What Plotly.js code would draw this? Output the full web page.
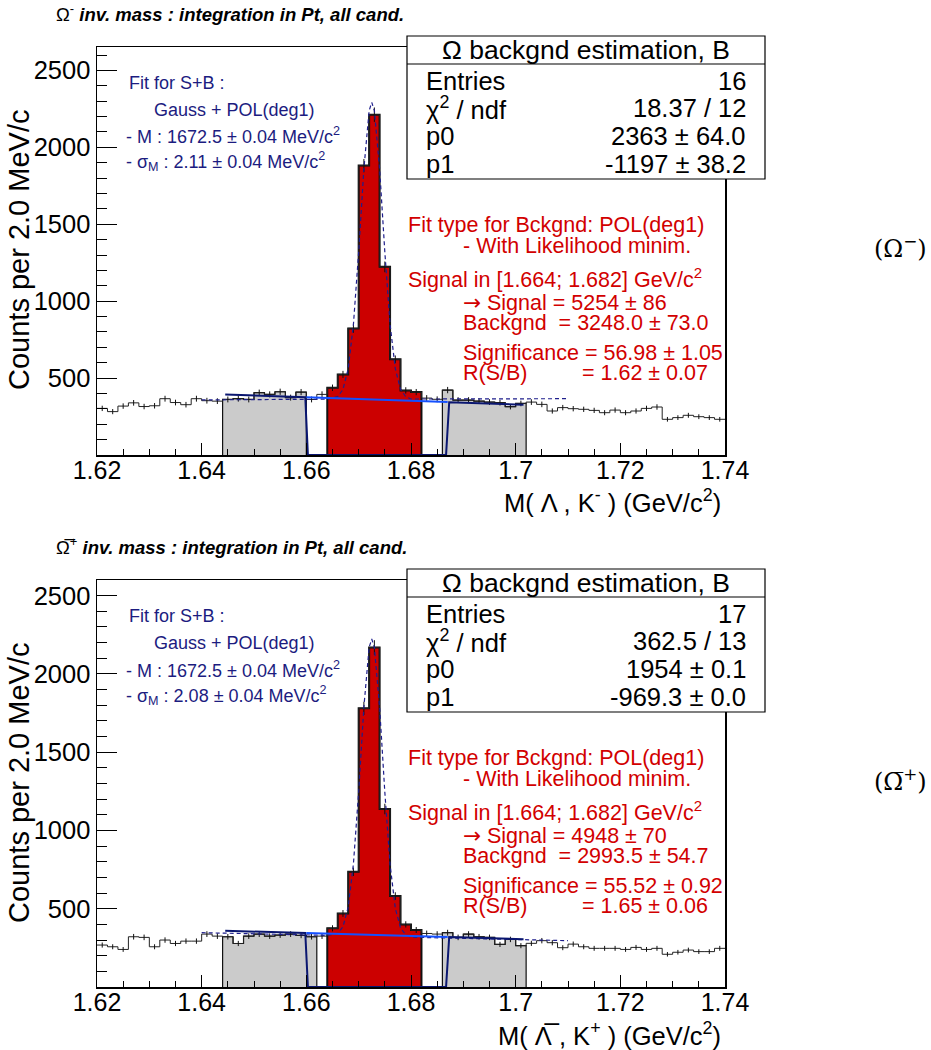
<!DOCTYPE html>
<html><head><meta charset="utf-8">
<script src="https://cdn.plot.ly/plotly-3.0.1.min.js"></script>
<style>html,body{margin:0;padding:0;background:#fff}#chart{width:931px;height:1050px}</style>
</head><body><div id="chart"></div>
<script>
// ---------------- data ----------------
const massLow = 1.62;          // GeV/c^2, lower edge of first bin
const binWidth = 0.002;        // 2.0 MeV/c^2 bins
const countsOmegaMinus = [303, 282, 318, 339, 315, 320, 366, 341, 327, 366, 353, 350, 361, 366, 361, 405, 394, 411, 373, 409, 361, 394,
  437, 524, 823, 1881, 2212, 1223, 622, 420, 409,
  370, 362, 422, 357, 357, 350, 344, 340, 314, 335, 344, 329, 286, 308, 301, 297, 290, 275, 292, 275, 286, 303, 312, 232, 243, 258, 249, 243, 232];
const countsOmegaPlus = [268, 257, 240, 321, 317, 257, 300, 278, 293, 293, 338, 325, 321, 278, 325, 338, 325, 332, 338, 330, 321, 325,
  375, 470, 736, 1780, 2169, 1137, 581, 400, 364,
  342, 338, 347, 317, 338, 321, 317, 272, 304, 264, 279, 296, 283, 251, 274, 257, 247, 247, 247, 240, 253, 240, 247, 209, 222, 236, 226, 226, 247];
const signalRange = [1.664, 1.682];
const sidebandsOmegaMinus = [[1.644, 1.660], [1.686, 1.702]];
const sidebandsOmegaPlus = [[1.644, 1.662], [1.686, 1.702]];

// S+B fit curve (Gauss + pol1)
const fitMass = [1.640, 1.660, 1.664, 1.666, 1.667, 1.668, 1.669, 1.670, 1.671, 1.672, 1.6725, 1.673, 1.674, 1.675, 1.676, 1.677, 1.678, 1.679, 1.680, 1.684, 1.710];
const fitOmegaMinus = [358, 361, 363, 379, 426, 561, 849, 1319, 1861, 2238, 2292, 2238, 1861, 1319, 849, 561, 426, 379, 364, 364, 366];
const fitOmegaPlus  = [347, 332, 330, 342, 385, 510, 787, 1247, 1790, 2170, 2223, 2169, 1787, 1244, 782, 503, 377, 333, 318, 315, 296];

// background-only fit (pol1 on side bands, signal region rejected)
const bkgMass = [1.6445, 1.6598, 1.6603, 1.6867, 1.6873, 1.7015];
const bkgOmegaMinus = [394, 376, 0, 0, 343, 326];
const bkgOmegaPlus  = [359, 345, 0, 0, 319, 305];
// background under the signal region
const bkgUnderMass = [1.6600, 1.6870];
const bkgUnderOmegaMinus = [376, 344];
const bkgUnderOmegaPlus  = [345, 319];

const xTickVals = [1.62, 1.64, 1.66, 1.68, 1.70, 1.72, 1.74];
const xTickText = ['1.62', '1.64', '1.66', '1.68', '1.7', '1.72', '1.74'];
const yTickVals = [500, 1000, 1500, 2000, 2500];

const statLabels = ['Entries', 'χ<sup>2</sup> / ndf', 'p0', 'p1'];
const statOmegaMinus = ['16', '18.37 / 12', '2363 ± 64.0', '-1197 ± 38.2'];
const statOmegaPlus  = ['17', '362.5 / 13', '1954 ± 0.1', '-969.3 ± 0.0'];

const sbFitOmegaMinus = ['Fit for S+B :', 'Gauss + POL(deg1)', '- M : 1672.5 ± 0.04 MeV/c<sup>2</sup>', '- σ<sub>M</sub> : 2.11 ± 0.04 MeV/c<sup>2</sup>'];
const sbFitOmegaPlus  = ['Fit for S+B :', 'Gauss + POL(deg1)', '- M : 1672.5 ± 0.04 MeV/c<sup>2</sup>', '- σ<sub>M</sub> : 2.08 ± 0.04 MeV/c<sup>2</sup>'];

const ARROW = '<span style="font-family:DejaVu Sans">→</span>';
const resOmegaMinus = ['Fit type for Bckgnd: POL(deg1)', '- With Likelihood minim.', 'Signal in [1.664; 1.682] GeV/c<sup>2</sup>',
  ARROW + ' Signal = 5254 ± 86', 'Backgnd\u00a0 = 3248.0 ± 73.0', 'Significance = 56.98 ± 1.05', 'R(S/B)', '= 1.62 ± 0.07'];
const resOmegaPlus = ['Fit type for Bckgnd: POL(deg1)', '- With Likelihood minim.', 'Signal in [1.664; 1.682] GeV/c<sup>2</sup>',
  ARROW + ' Signal = 4948 ± 70', 'Backgnd\u00a0 = 2993.5 ± 54.7', 'Significance = 55.52 ± 0.92', 'R(S/B)', '= 1.65 ± 0.06'];

// ---------------- helpers ----------------
const W = 931, H = 1050;
const FONT = 'Liberation Sans, Arial, Helvetica, sans-serif';
const RED = '#d20000', NAVY = '#1c1c80', DASH = '#1e1e8c', NAVYLINE = '#0a1670', BLUE = '#1450ff';

function binEdges(n) { const e = []; for (let i = 0; i <= n; i++) e.push(+(massLow + i * binWidth).toFixed(4)); return e; }
function binCenters(n) { const c = []; for (let i = 0; i < n; i++) c.push(+(massLow + (i + 0.5) * binWidth).toFixed(4)); return c; }

function regionTrace(counts, lo, hi, fill, lw, xa, ya) {
  const e = binEdges(counts.length), c = binCenters(counts.length);
  let first = -1, last = -1;
  for (let i = 0; i < counts.length; i++) if (c[i] > lo && c[i] < hi) { if (first < 0) first = i; last = i; }
  const xs = [e[first]], ys = [0];
  for (let i = first; i <= last; i++) { xs.push(e[i]); ys.push(counts[i]); }
  xs.push(e[last + 1]); ys.push(counts[last]);
  xs.push(e[last + 1]); ys.push(0);
  return { type: 'scatter', mode: 'lines', x: xs, y: ys, xaxis: xa, yaxis: ya, fill: 'toself', fillcolor: fill,
    line: { shape: 'hv', color: '#111', width: lw }, hoverinfo: 'skip' };
}
function histTraces(counts, sidebands, xa, ya, fit, bkg, bkgUnder) {
  const e = binEdges(counts.length), c = binCenters(counts.length);
  const t = [];
  sidebands.forEach(sb => t.push(regionTrace(counts, sb[0], sb[1], '#cbcbcb', 1.2, xa, ya)));
  t.push(regionTrace(counts, signalRange[0], signalRange[1], '#cc0000', 2, xa, ya));
  t.push({ type: 'scatter', mode: 'lines', x: e, y: counts.concat([counts[counts.length - 1]]), xaxis: xa, yaxis: ya,
    line: { shape: 'hv', color: '#222', width: 1 }, hoverinfo: 'skip' });
  t.push({ type: 'scatter', mode: 'markers', x: c, y: counts, xaxis: xa, yaxis: ya,
    marker: { size: 1, color: 'rgba(0,0,0,0)' },
    error_y: { type: 'sqrt', width: 0, thickness: 1, color: '#111' }, hoverinfo: 'skip' });
  t.push({ type: 'scatter', mode: 'lines', x: fitMass, y: fit, xaxis: xa, yaxis: ya,
    line: { color: DASH, width: 1.2, dash: '4px,3px' }, hoverinfo: 'skip' });
  t.push({ type: 'scatter', mode: 'lines', x: bkgMass, y: bkg, xaxis: xa, yaxis: ya,
    line: { color: NAVYLINE, width: 2 }, hoverinfo: 'skip' });
  t.push({ type: 'scatter', mode: 'lines', x: bkgUnderMass, y: bkgUnder, xaxis: xa, yaxis: ya,
    line: { color: BLUE, width: 2 }, hoverinfo: 'skip' });
  return t;
}

const data = [].concat(
  histTraces(countsOmegaMinus, sidebandsOmegaMinus, 'x', 'y', fitOmegaMinus, bkgOmegaMinus, bkgUnderOmegaMinus),
  histTraces(countsOmegaPlus, sidebandsOmegaPlus, 'x2', 'y2', fitOmegaPlus, bkgOmegaPlus, bkgUnderOmegaPlus)
);

const xDom = [97 / W, 725 / W];
function xAxis(anchor) {
  return { domain: xDom, anchor: anchor, range: [1.62, 1.74], tickmode: 'array', tickvals: xTickVals, ticktext: xTickText,
    ticks: 'inside', ticklen: 12, tickwidth: 1, tickcolor: '#000', ticklabelstandoff: -8,
    minor: { tick0: 1.62, dtick: 0.005, ticks: 'inside', ticklen: 6, tickwidth: 1, tickcolor: '#000' },
    showline: true, mirror: true, linecolor: '#000', linewidth: 1.5, showgrid: false, zeroline: false,
    tickfont: { family: FONT, size: 25, color: '#000' }, fixedrange: true };
}
function yAxis(anchor, dom, top) {
  return { domain: dom, anchor: anchor, range: [0, top], tickmode: 'array', tickvals: yTickVals,
    ticks: 'inside', ticklen: 20, tickwidth: 1, tickcolor: '#000',
    minor: { tick0: 0, dtick: 100, ticks: 'inside', ticklen: 10, tickwidth: 1, tickcolor: '#000' },
    showline: true, mirror: true, linecolor: '#000', linewidth: 1.5, showgrid: false, zeroline: false,
    tickfont: { family: FONT, size: 25.5, color: '#000' }, fixedrange: true };
}

const annotations = [], shapes = [];
function note(text, x, y, opts) {
  annotations.push(Object.assign({ xref: 'paper', yref: 'paper', x: x / W, y: 1 - y / H, text: text, showarrow: false,
    xanchor: 'left', yanchor: 'middle', font: { family: FONT, size: 21, color: '#000' } }, opts || {}));
}

function panelText(top, title, statVals, sbLines, resLines, xTitle, tag) {
  // title
  note(title, 54, top - 34, { font: { family: FONT, size: 18.5, color: '#000' } });
  // y-axis title
  note('Counts per 2.0 MeV/c', 19, top + 203, { xanchor: 'center', textangle: -90, font: { family: FONT, size: 29, color: '#000' } });
  // stat box
  shapes.push({ type: 'rect', xref: 'paper', yref: 'paper', x0: 407 / W, x1: 765 / W, y0: 1 - (top + 132) / H, y1: 1 - (top - 11) / H,
    line: { color: '#000', width: 1.2 }, fillcolor: '#fff', layer: 'above' });
  shapes.push({ type: 'line', xref: 'paper', yref: 'paper', x0: 407 / W, x1: 765 / W, y0: 1 - (top + 17) / H, y1: 1 - (top + 17) / H,
    line: { color: '#000', width: 1.2 }, layer: 'above' });
  note('Ω backgnd estimation, B', 586, top + 3, { xanchor: 'center', font: { family: FONT, size: 26.5, color: '#000' } });
  const rowY = [34, 61, 89, 117];
  statLabels.forEach((l, i) => {
    note(l, 424, top + rowY[i], { font: { family: FONT, size: 25.5, color: '#000' } });
    note(statVals[i], 748, top + rowY[i], { xanchor: 'right', font: { family: FONT, size: 25.5, color: '#000' } });
  });
  // S+B fit text
  const sbX = [127, 152, 124, 124], sbY = [36, 63, 89, 115];
  sbLines.forEach((l, i) => note(l, sbX[i], top + sbY[i], { font: { family: FONT, size: 18, color: NAVY } }));
  // results text
  const rX = [406, 461, 406, 461, 461, 461, 461, 580], rY = [178, 199, 231, 255, 276, 306, 326, 326];
  resLines.forEach((l, i) => note(l, rX[i], top + rY[i], { font: { family: FONT, size: 21.5, color: RED } }));
  // axis title
  note(xTitle, 723, top + 454, { xanchor: 'right', font: { family: FONT, size: 25.5, color: '#000' } });
  // side tag
  note(tag, 900, top + 200, { xanchor: 'center', font: { family: 'DejaVu Serif, Liberation Serif, serif', size: 24, color: '#000' } });
}

panelText(47, 'Ω<sup>-</sup> <b><i>inv. mass : integration in Pt, all cand.</i></b>', statOmegaMinus, sbFitOmegaMinus, resOmegaMinus,
  'M( Λ , K<sup>-</sup> ) (GeV/c<sup>2</sup>)', '(Ω<sup>−</sup>)');
panelText(580, 'Ω\u0305<sup>+</sup> <b><i>inv. mass : integration in Pt, all cand.</i></b>', statOmegaPlus, sbFitOmegaPlus, resOmegaPlus,
  'M( Λ\u0305 , K<sup>+</sup> ) (GeV/c<sup>2</sup>)', '(Ω\u0305<sup>+</sup>)');

const layout = {
  width: W, height: H, margin: { l: 0, r: 0, t: 0, b: 0 }, paper_bgcolor: '#fff', plot_bgcolor: '#fff', showlegend: false,
  xaxis: xAxis('y'), yaxis: yAxis('x', [1 - 455 / H, 1 - 47 / H], 2652),
  xaxis2: xAxis('y2'), yaxis2: yAxis('x2', [1 - 987 / H, 1 - 580 / H], 2600),
  annotations: annotations, shapes: shapes, font: { family: FONT }
};
Plotly.newPlot('chart', data, layout, { displayModeBar: false, staticPlot: true });
</script></body></html>
